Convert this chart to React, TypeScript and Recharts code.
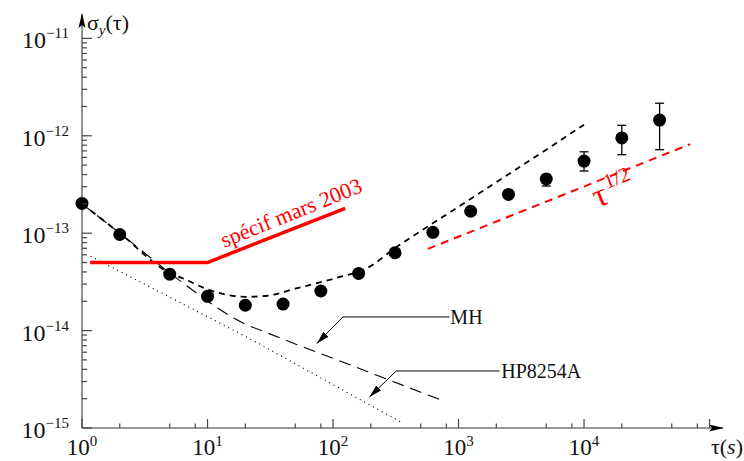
import React from 'react';
import { ComposedChart, XAxis, YAxis, Line, Scatter, ErrorBar, ReferenceDot } from 'recharts';

const FONT = "'Liberation Serif', 'Times New Roman', serif";

// Axis ticks
const tauTicks = [1, 2, 5, 8, 10, 20, 50, 80, 100, 200, 500, 800, 1000, 2000, 5000, 8000, 10000, 20000, 50000, 80000, 100000];
const tauLabeled = [1, 10, 100, 1000, 10000];
const sigmaTicks = [
  1e-15, 2e-15, 3e-15, 4e-15, 5e-15, 6e-15, 7e-15, 8e-15, 9e-15,
  1e-14, 2e-14, 3e-14, 4e-14, 5e-14, 6e-14, 7e-14, 8e-14, 9e-14,
  1e-13, 2e-13, 3e-13, 4e-13, 5e-13, 6e-13, 7e-13, 8e-13, 9e-13,
  1e-12, 2e-12, 3e-12, 4e-12, 5e-12, 6e-12, 7e-12, 8e-12, 9e-12,
  1e-11,
];
const sigmaLabeled = [1e-15, 1e-14, 1e-13, 1e-12, 1e-11];

// Measured Allan deviation
const measTau = [1, 2, 5, 10, 20, 40, 80, 160, 312, 625, 1250, 2500, 5000, 10000, 20000, 40000];
const measSigma = [2.02e-13, 9.7e-14, 3.8e-14, 2.25e-14, 1.82e-14, 1.87e-14, 2.55e-14, 3.86e-14, 6.3e-14, 1.02e-13, 1.68e-13, 2.5e-13, 3.6e-13, 5.5e-13, 9.5e-13, 1.45e-12];
const measLow = [2.02e-13, 9.7e-14, 3.8e-14, 2.25e-14, 1.82e-14, 1.87e-14, 2.55e-14, 3.86e-14, 6.3e-14, 1.02e-13, 1.68e-13, 2.5e-13, 3.05e-13, 4.35e-13, 6.4e-13, 7.2e-13];
const measHigh = [2.02e-13, 9.7e-14, 3.8e-14, 2.25e-14, 1.82e-14, 1.87e-14, 2.55e-14, 3.86e-14, 6.3e-14, 1.02e-13, 1.68e-13, 2.5e-13, 4.0e-13, 6.85e-13, 1.28e-12, 2.16e-12];

// Fit curve (short dashes)
const fitTau = [1, 2, 5, 6.5, 10, 15, 20, 30, 50, 100, 200, 300, 500, 1000, 2000, 5000, 10000];
const fitSigma = [2.0e-13, 1.0e-13, 3.9e-14, 3.4e-14, 2.65e-14, 2.3e-14, 2.22e-14, 2.28e-14, 2.7e-14, 3.4e-14, 4.6e-14, 6.8e-14, 1.05e-13, 1.87e-13, 3.34e-13, 7.2e-13, 1.3e-12];

// MH (long dashes)
const mhTau = [1, 2, 5, 10, 15, 20, 50, 100, 300, 776];
const mhSigma = [2.0e-13, 1.0e-13, 3.9e-14, 2.0e-14, 1.42e-14, 1.16e-14, 7.3e-15, 5.2e-15, 3.0e-15, 1.88e-15];

// HP8254A (dotted)
const hpTau = [1.17, 21.6, 360];
const hpSigma = [5.8e-14, 8.3e-15, 1.12e-15];

// Specification (red solid)
const specTau = [1.16, 10, 125];
const specSigma = [5.0e-14, 5.0e-14, 1.8e-13];

// tau^1/2 guide (red dashed)
const halfTau = [570, 70000];
const halfSigma = [6.9e-14, 8.2e-13];

// Annotation leaders
const mhLeaderTau = [848, 119.7, 74.3];
const mhLeaderSigma = [1.38e-14, 1.38e-14, 7.36e-15];
const hpLeaderTau = [2120, 319, 195];
const hpLeaderSigma = [3.85e-15, 3.85e-15, 2.08e-15];

const zip = (xs: number[], ys: number[]) => xs.map((x, i) => ({ x, y: ys[i] }));

const measData = measTau.map((x, i) => ({
  x,
  y: measSigma[i],
  err: [measSigma[i] - measLow[i], measHigh[i] - measSigma[i]],
}));

function XTick(props: any) {
  const { x, y, payload } = props;
  const v = payload.value;
  const exp = Math.round(Math.log10(v));
  const major = Math.abs(Math.log10(v) - exp) < 1e-6;
  const len = major ? 9 : 4.5;
  return (
    <g>
      <line x1={x} y1={y} x2={x} y2={y - len} stroke="#444" strokeWidth={1.2} />
      {tauLabeled.includes(v) && (
        <text x={x} y={y + 27} textAnchor="middle" fontFamily={FONT} fontSize={23} fill="#111">
          10<tspan fontSize={15} dy={-9}>{exp}</tspan>
        </text>
      )}
    </g>
  );
}

function YTick(props: any) {
  const { x, y, payload } = props;
  const v = payload.value;
  const exp = Math.round(Math.log10(v));
  const major = Math.abs(Math.log10(v) - exp) < 1e-6;
  const len = major ? 10 : 5;
  const labeled = sigmaLabeled.some((s) => Math.abs(s - v) / s < 1e-6);
  return (
    <g>
      <line x1={x} y1={y} x2={x + len} y2={y} stroke="#444" strokeWidth={1.2} />
      {labeled && (
        <text x={x - 13} y={y + 10} textAnchor="end" fontFamily={FONT} fontSize={24} fill="#111">
          10<tspan fontSize={15} dy={-10}>{'\u2212' + Math.abs(exp)}</tspan>
        </text>
      )}
    </g>
  );
}

const renderDot = (p: any) => <circle cx={p.cx} cy={p.cy} r={6.5} fill="#000" />;

const rotLabel = (content: React.ReactNode, angle: number, anchor: string, extra: any = {}) => (props: any) => {
  const vb = props.viewBox || {};
  const x = vb.x;
  const y = vb.y;
  return (
    <text x={x} y={y} transform={`rotate(${angle} ${x} ${y})`} textAnchor={anchor} fontFamily={FONT} {...extra}>
      {content}
    </text>
  );
};

export default function App() {
  return (
    <div style={{ position: 'absolute', left: 0, top: 0, width: 744, height: 461, background: '#fff' }}>
      <svg width={0} height={0} style={{ position: 'absolute' }}>
        <defs>
          <marker id="axisArrow" markerUnits="userSpaceOnUse" markerWidth={15} markerHeight={8} viewBox="0 0 15 8" refX={14} refY={4} orient="auto-start-reverse">
            <path d="M0,0.5 L15,4 L0,7.5 L3,4 z" fill="#000" />
          </marker>
          <marker id="leaderArrow" markerUnits="userSpaceOnUse" markerWidth={13} markerHeight={7} viewBox="0 0 13 7" refX={13} refY={3.5} orient="auto">
            <path d="M0,0 L13,3.5 L0,7 z" fill="#000" />
          </marker>
        </defs>
      </svg>
      <ComposedChart width={744} height={461} margin={{ top: 14, right: 21, bottom: 32, left: 81 }}>
        <XAxis
          type="number"
          dataKey="x"
          scale="log"
          domain={[1, 128000]}
          ticks={tauTicks}
          interval={0}
          height={1}
          tickSize={0}
          tickMargin={0}
          tickLine={false}
          tick={(p: any) => <XTick {...p} />}
          axisLine={{ stroke: '#777', strokeWidth: 1.6, markerEnd: 'url(#axisArrow)' }}
          label={(p: any) => {
            const vb = p.viewBox || {};
            return (
              <text x={vb.x + vb.width + 20} y={vb.y + 26} textAnchor="end" fontFamily={FONT} fontSize={22} fill="#111">
                τ(<tspan fontStyle="italic">s</tspan>)
              </text>
            );
          }}
        />
        <YAxis
          type="number"
          dataKey="y"
          scale="log"
          domain={[1e-15, 1.78e-11]}
          ticks={sigmaTicks}
          interval={0}
          width={1}
          tickSize={0}
          tickMargin={0}
          tickLine={false}
          tick={(p: any) => <YTick {...p} />}
          axisLine={{ stroke: '#777', strokeWidth: 1.6, markerStart: 'url(#axisArrow)' }}
          label={(p: any) => {
            const vb = p.viewBox || {};
            return (
              <text x={vb.x + vb.width + 5} y={vb.y + 16} fontFamily={FONT} fontSize={22} fill="#111">
                σ<tspan fontStyle="italic" fontSize={15} dy={5}>y</tspan>
                <tspan dy={-5}>(τ)</tspan>
              </text>
            );
          }}
        />

        <Line data={zip(hpTau, hpSigma)} dataKey="y" type="linear" stroke="#000" strokeWidth={1.2} strokeDasharray="1 4" dot={false} activeDot={false} isAnimationActive={false} />
        <Line data={zip(mhTau, mhSigma)} dataKey="y" type="linear" stroke="#000" strokeWidth={1.1} strokeDasharray="12 7" dot={false} activeDot={false} isAnimationActive={false} />
        <Line data={zip(fitTau, fitSigma)} dataKey="y" type="monotone" stroke="#000" strokeWidth={1.8} strokeDasharray="6 5" dot={false} activeDot={false} isAnimationActive={false} />
        <Line data={zip(specTau, specSigma)} dataKey="y" type="linear" stroke="#ff0000" strokeWidth={3.5} dot={false} activeDot={false} isAnimationActive={false} />
        <Line data={zip(halfTau, halfSigma)} dataKey="y" type="linear" stroke="#ff0000" strokeWidth={2} strokeDasharray="8 6" dot={false} activeDot={false} isAnimationActive={false} />
        <Line data={zip(mhLeaderTau, mhLeaderSigma)} dataKey="y" type="linear" stroke="#000" strokeWidth={1} dot={false} activeDot={false} markerEnd="url(#leaderArrow)" isAnimationActive={false} />
        <Line data={zip(hpLeaderTau, hpLeaderSigma)} dataKey="y" type="linear" stroke="#000" strokeWidth={1} dot={false} activeDot={false} markerEnd="url(#leaderArrow)" isAnimationActive={false} />

        <Scatter data={measData} shape={renderDot} isAnimationActive={false}>
          <ErrorBar dataKey="err" direction="y" width={4.5} stroke="#000" strokeWidth={1.3} />
        </Scatter>

        <ReferenceDot x={48.9} y={1.38e-13} r={0} fill="none" stroke="none"
          label={rotLabel('spécif mars 2003', -22, 'middle', { fontSize: 22, fill: '#ff0000' })} />
        <ReferenceDot x={12800} y={1.81e-13} r={0} fill="none" stroke="none"
          label={rotLabel(<>
            <tspan fontSize={34}>τ</tspan>
            <tspan fontSize={21} dx={2} dy={-14}>1/2</tspan>
          </>, -22, 'start', { fill: '#ff0000' })} />
        <ReferenceDot x={861} y={1.38e-14} r={0} fill="none" stroke="none"
          label={rotLabel('MH', 0, 'start', { fontSize: 20, fill: '#111', dy: 7 })} />
        <ReferenceDot x={2190} y={3.85e-15} r={0} fill="none" stroke="none"
          label={rotLabel('HP8254A', 0, 'start', { fontSize: 20, fill: '#111', dy: 7 })} />
      </ComposedChart>
    </div>
  );
}
